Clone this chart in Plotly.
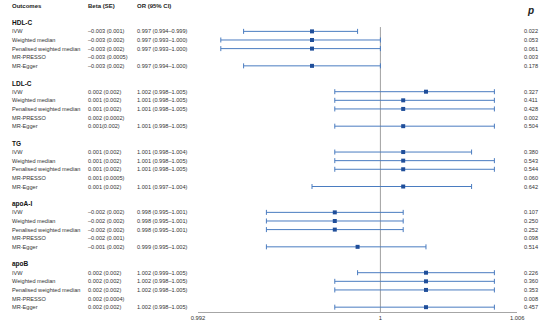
import plotly.graph_objects as go

W, H = 550, 329

groups = ["HDL-C", "LDL-C", "TG", "apoA-I", "apoB"]
methods = ["IVW", "Weighted median", "Penalised weighted median", "MR-PRESSO", "MR-Egger"]

beta_text = {
    "HDL-C": ["–0.003 (0.001)", "–0.003 (0.002)", "–0.003 (0.002)", "–0.003 (0.0005)", "–0.003 (0.002)"],
    "LDL-C": ["0.002 (0.002)", "0.001 (0.002)", "0.001 (0.002)", "0.002 (0.0002)", "0.001(0.002)"],
    "TG": ["0.001 (0.002)", "0.001 (0.002)", "0.001 (0.002)", "0.001 (0.0005)", "0.001 (0.002)"],
    "apoA-I": ["–0.002 (0.002)", "–0.002 (0.002)", "–0.002 (0.002)", "–0.002 (0.001)", "–0.001 (0.002)"],
    "apoB": ["0.002 (0.002)", "0.002 (0.002)", "0.002 (0.002)", "0.002 (0.0004)", "0.002 (0.002)"],
}
or_val = {
    "HDL-C": [0.997, 0.997, 0.997, None, 0.997],
    "LDL-C": [1.002, 1.001, 1.001, None, 1.001],
    "TG": [1.001, 1.001, 1.001, None, 1.001],
    "apoA-I": [0.998, 0.998, 0.998, None, 0.999],
    "apoB": [1.002, 1.002, 1.002, None, 1.002],
}
or_lo = {
    "HDL-C": [0.994, 0.993, 0.993, None, 0.994],
    "LDL-C": [0.998, 0.998, 0.998, None, 0.998],
    "TG": [0.998, 0.998, 0.998, None, 0.997],
    "apoA-I": [0.995, 0.995, 0.995, None, 0.995],
    "apoB": [0.999, 0.998, 0.998, None, 0.998],
}
or_hi = {
    "HDL-C": [0.999, 1.000, 1.000, None, 1.000],
    "LDL-C": [1.005, 1.005, 1.005, None, 1.005],
    "TG": [1.004, 1.005, 1.005, None, 1.004],
    "apoA-I": [1.001, 1.001, 1.001, None, 1.002],
    "apoB": [1.005, 1.005, 1.005, None, 1.005],
}
p_text = {
    "HDL-C": ["0.022", "0.053", "0.061", "0.003", "0.178"],
    "LDL-C": ["0.327", "0.411", "0.428", "0.002", "0.504"],
    "TG": ["0.380", "0.543", "0.544", "0.060", "0.642"],
    "apoA-I": ["0.107", "0.250", "0.252", "0.098", "0.514"],
    "apoB": ["0.226", "0.360", "0.353", "0.008", "0.457"],
}
x_ticks = [0.992, 1, 1.006]
x_tick_labels = ["0.992", "1", "1.006"]

FONT = "'Liberation Sans', Arial, sans-serif"
LINE_C = "#4a7cc0"
MARK_C = "#1f4e9a"
TXT_C = "#333333"

fig = go.Figure()
annotations = []

def ann(px, row, text, size=5.6, bold=False, color=TXT_C, xanchor="left", italic=False):
    t = text
    if bold:
        t = "<b>" + t + "</b>"
    if italic:
        t = "<i>" + t + "</i>"
    annotations.append(dict(x=px / W, y=row, xref="paper", yref="y", text=t,
                            showarrow=False, xanchor=xanchor, yanchor="middle",
                            borderpad=0, borderwidth=0,
                            font=dict(family=FONT, size=size, color=color)))

ann(5, 0, "Outcomes", size=6, bold=True, color="#222")
ann(83, 0, "Beta (SE)", size=6, bold=True, color="#222")
ann(133, 0, "OR (95% CI)", size=6, bold=True, color="#222")
ann(537, 0.55, "p", size=10, bold=True, italic=True, color="#222", xanchor="center")

xs, ys, ep, em = [], [], [], []
for gi, g in enumerate(groups):
    hrow = 2 + 7 * gi
    ann(5, hrow, g, size=6.5, bold=True, color="#111")
    for mi, m in enumerate(methods):
        r = hrow + 1 + mi
        ann(5, r, m)
        ann(83, r, beta_text[g][mi])
        if or_val[g][mi] is not None:
            ann(133, r, f"{or_val[g][mi]:.3f} ({or_lo[g][mi]:.3f}–{or_hi[g][mi]:.3f})")
            xs.append(or_val[g][mi])
            ys.append(r)
            ep.append(or_hi[g][mi] - or_val[g][mi])
            em.append(or_val[g][mi] - or_lo[g][mi])
        ann(530, r, p_text[g][mi])

fig.add_trace(go.Scatter(
    x=xs, y=ys, mode="markers",
    marker=dict(symbol="square", size=4, color=MARK_C),
    error_x=dict(type="data", symmetric=False, array=ep, arrayminus=em,
                 color=LINE_C, thickness=1, width=2.5),
    showlegend=False, hoverinfo="skip"))

y_bottom = 35.56
fig.add_shape(type="line", x0=1, x1=1, y0=2.5, y1=y_bottom, xref="x", yref="y",
              line=dict(color="#a0a0a0", width=1), layer="below")

fig.update_layout(
    width=W, height=H,
    margin=dict(l=0, r=0, t=0, b=0),
    paper_bgcolor="white", plot_bgcolor="white",
    annotations=annotations,
    xaxis=dict(domain=[196 / W, 523.5 / W], range=[0.992, 1.006],
               tickvals=x_ticks, ticktext=x_tick_labels,
               showline=True, linecolor="#a6a6a6", linewidth=1,
               ticks="inside", ticklen=4, tickcolor="#a6a6a6",
               showgrid=False, zeroline=False,
               tickfont=dict(family=FONT, size=5.8, color=TXT_C)),
    yaxis=dict(domain=[(H - 312) / H, 1], range=[y_bottom, -0.64],
               visible=False, showgrid=False, zeroline=False),
)

fig.write_html("out.html", config={"displayModeBar": False},
               post_script="document.body.style.margin='0';document.body.style.overflow='hidden';")
